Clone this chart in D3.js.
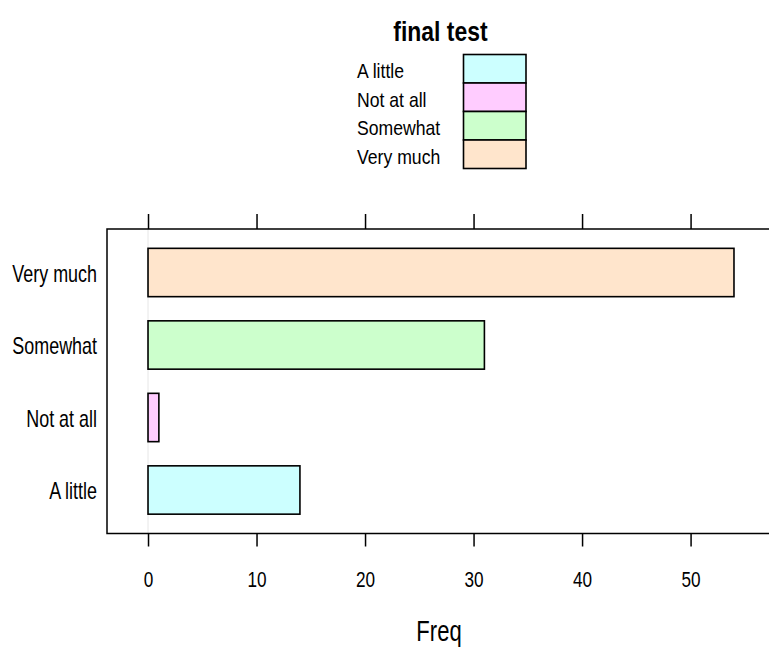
<!DOCTYPE html>
<html>
<head>
<meta charset="utf-8">
<script src="https://cdn.jsdelivr.net/npm/d3@7"></script>
<style>
  html, body { margin: 0; padding: 0; background: #ffffff; }
  svg { display: block; font-family: "Liberation Sans", Arial, sans-serif; }
</style>
</head>
<body>
<svg id="chart" width="769" height="647"></svg>
<script>
// Responses to "final test", in factor-level order (bottom to top)
const categories = ["A little", "Not at all", "Somewhat", "Very much"];
const freq = [14, 1, 31, 54];
const fills = ["#CCFFFF", "#FFCCFF", "#CCFFCC", "#FFE5CC"];
const xTicks = [0, 10, 20, 30, 40, 50];
const titleText = "final test";
const xLabel = "Freq";

const svg = d3.select("#chart");

// Panel geometry (lattice-style padding around the data range)
const panel = { left: 107, right: 775, top: 229, bottom: 533.5 };
const maxV = d3.max(freq);
const pad = 0.07 * maxV;

const x = d3.scaleLinear()
  .domain([0 - pad, maxV + pad])
  .range([panel.left, panel.right]);

const y = d3.scaleLinear()
  .domain([0.4, categories.length + 0.6])
  .range([panel.bottom, panel.top]);

const bandH = Math.abs(y(1) - y(0)) * 2 / 3;

// Condensed text helper: horizontally squeezed glyphs
function label(parent, tx, ty, text, size, sx, anchor, weight) {
  parent.append("g")
    .attr("transform", `translate(${tx},${ty}) scale(${sx},1)`)
    .append("text")
    .attr("text-anchor", anchor)
    .attr("font-size", size)
    .attr("font-weight", weight || "normal")
    .attr("fill", "#000")
    .text(text);
}

// Title
label(svg, 440.5, 41, titleText, 27, 0.85, "middle", "bold");

// Legend (key): labels on the left, stacked colour boxes on the right
const legRowH = 28.5;
const legTop = 54.5;
const legend = svg.append("g");
categories.forEach((c, i) => {
  label(legend, 357, legTop + i * legRowH + 23.5, c, 20.5, 0.86, "start");
});
legend.selectAll("rect")
  .data(categories)
  .join("rect")
  .attr("x", 463.5)
  .attr("y", (d, i) => legTop + i * legRowH)
  .attr("width", 62.5)
  .attr("height", legRowH)
  .attr("fill", (d, i) => fills[i])
  .attr("stroke", "#000")
  .attr("stroke-width", 1.6);

// Reference line at zero
svg.append("line")
  .attr("x1", x(0)).attr("x2", x(0))
  .attr("y1", panel.top).attr("y2", panel.bottom)
  .attr("stroke", "#e6e6e6")
  .attr("stroke-width", 1);

// Bars
svg.append("g")
  .selectAll("rect")
  .data(freq)
  .join("rect")
  .attr("x", x(0))
  .attr("y", (d, i) => y(i + 1) - bandH / 2)
  .attr("width", d => x(d) - x(0))
  .attr("height", bandH)
  .attr("fill", (d, i) => fills[i])
  .attr("stroke", "#000")
  .attr("stroke-width", 1.6);

// Panel border
svg.append("rect")
  .attr("x", panel.left)
  .attr("y", panel.top)
  .attr("width", panel.right - panel.left)
  .attr("height", panel.bottom - panel.top)
  .attr("fill", "none")
  .attr("stroke", "#000")
  .attr("stroke-width", 1.5);

// Category labels on the left
categories.forEach((c, i) => {
  label(svg, 97, y(i + 1) + 9, c, 23, 0.78, "end");
});

// Bottom axis with labels
const axisB = svg.append("g")
  .attr("transform", `translate(0,${panel.bottom})`)
  .call(d3.axisBottom(x).tickValues(xTicks).tickSize(13).tickFormat(d3.format("d")));
axisB.select(".domain").remove();
axisB.selectAll(".tick line").attr("stroke", "#000").attr("stroke-width", 1.5);
axisB.selectAll(".tick text")
  .attr("y", 54).attr("dy", 0)
  .attr("font-size", 22)
  .attr("font-family", "Liberation Sans, Arial, sans-serif")
  .attr("fill", "#000")
  .attr("transform", "scale(0.78,1)");

// Top axis: ticks only
const axisT = svg.append("g")
  .attr("transform", `translate(0,${panel.top})`)
  .call(d3.axisTop(x).tickValues(xTicks).tickSize(15).tickFormat(""));
axisT.select(".domain").remove();
axisT.selectAll(".tick line").attr("stroke", "#000").attr("stroke-width", 1.5);

// X axis title
label(svg, 439, 640.5, xLabel, 29, 0.76, "middle");
</script>
</body>
</html>
